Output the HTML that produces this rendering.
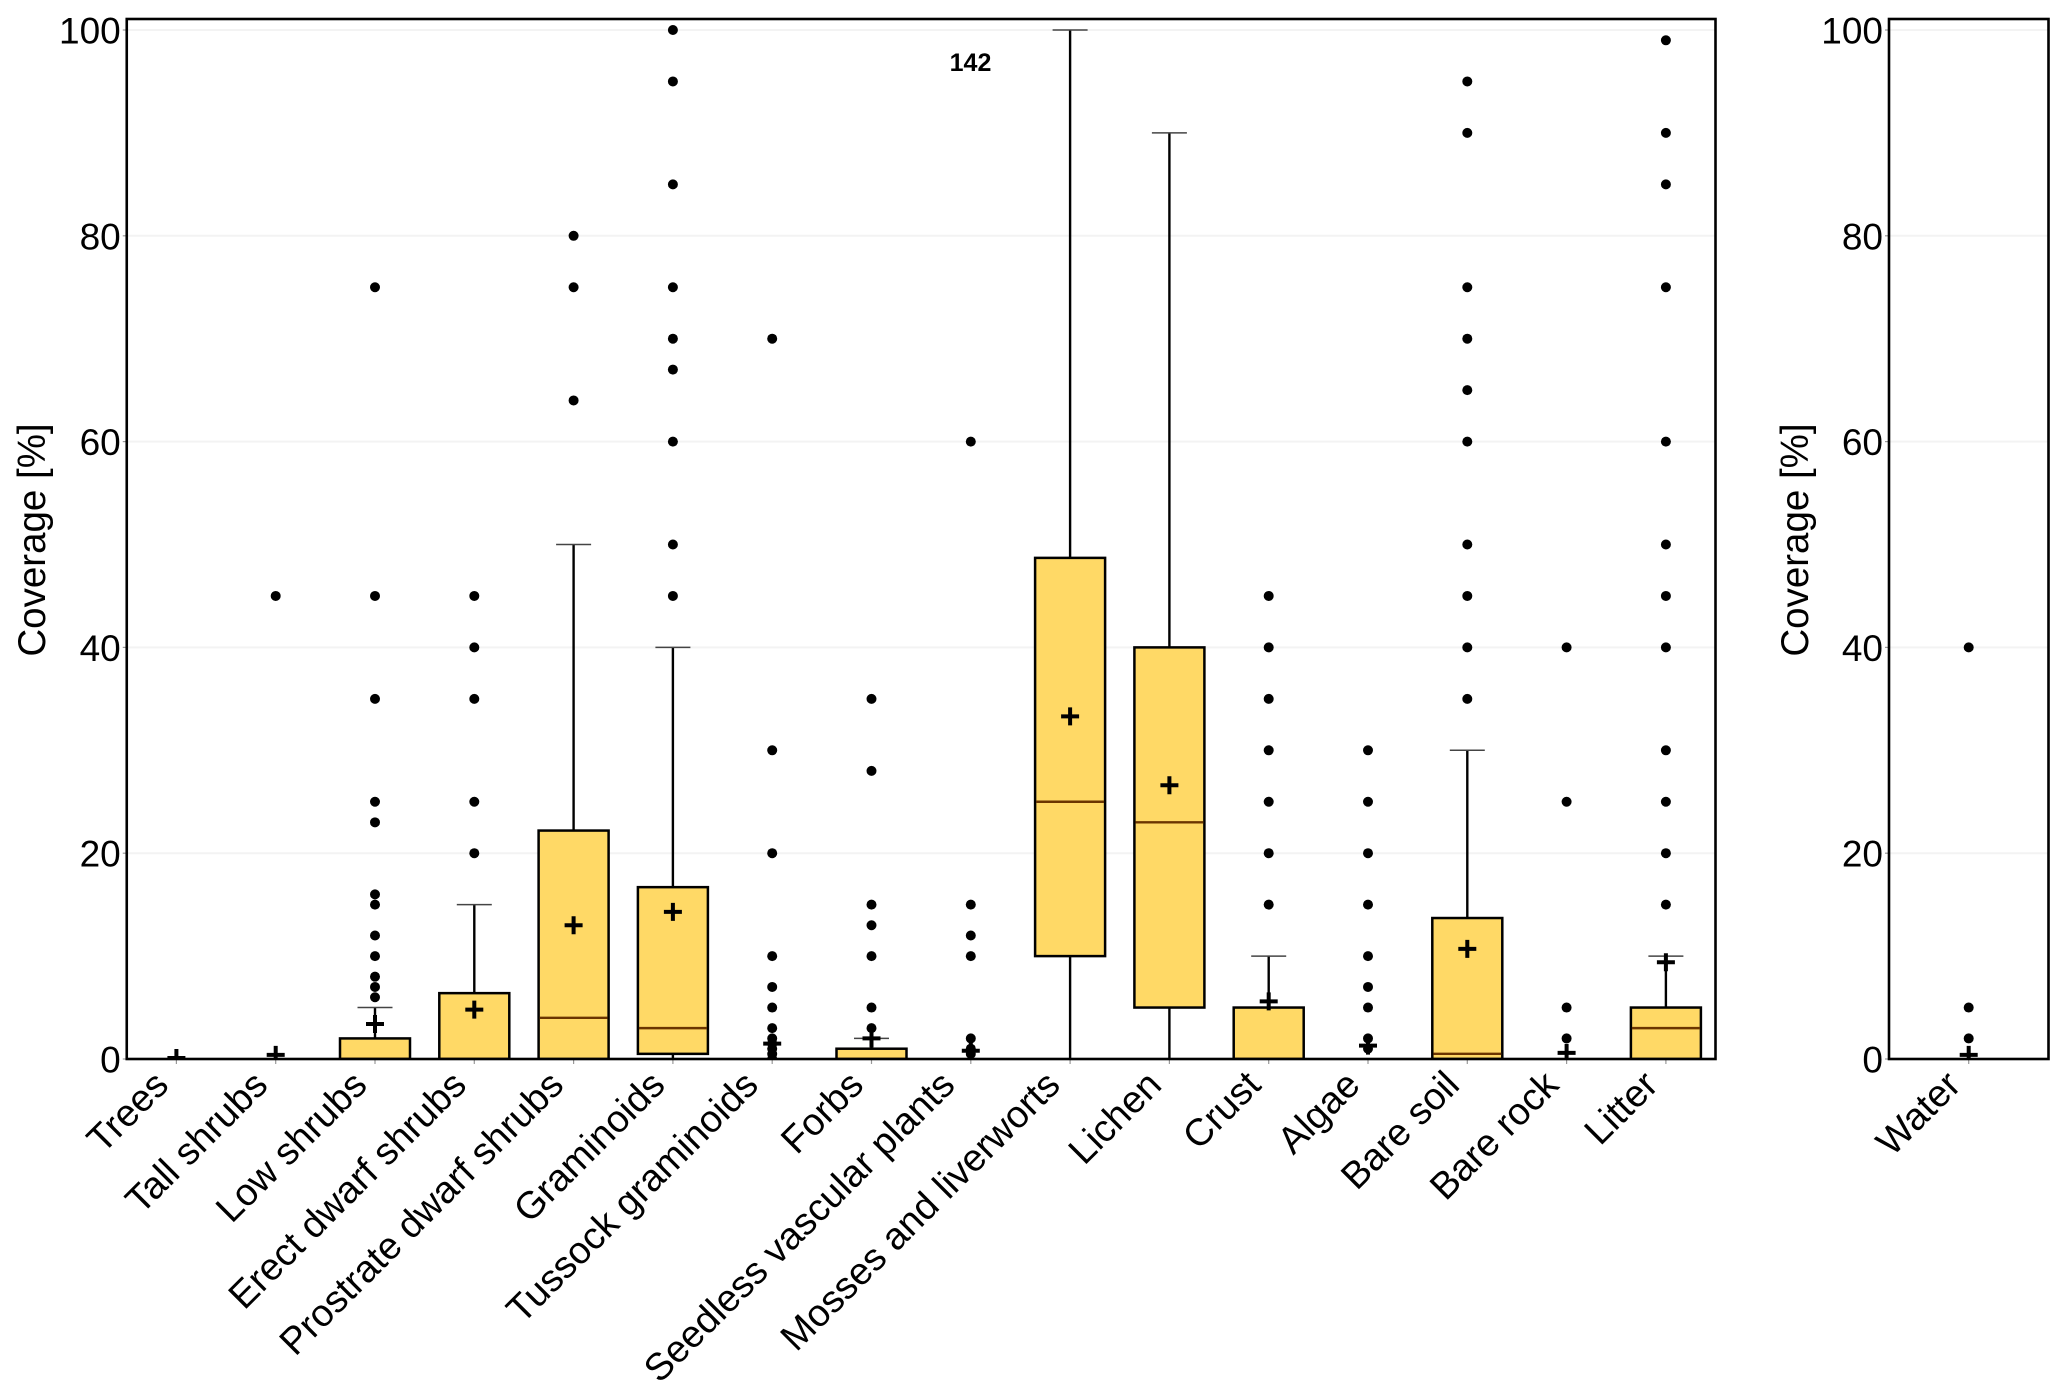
<!DOCTYPE html>
<html lang="en">
<head>
<meta charset="utf-8">
<title>Coverage boxplots</title>
<style>
html,body{margin:0;padding:0;background:#fff;width:2067px;height:1399px;overflow:hidden}
svg{display:block;font-family:"Liberation Sans",Arial,sans-serif}
</style>
</head>
<body>
<svg id="chart" xmlns="http://www.w3.org/2000/svg" width="2067" height="1399" viewBox="0 0 2067 1399">
  <defs>
    <clipPath id="clip-main"><rect x="126.75" y="19" width="1588.75" height="1040"/></clipPath>
    <clipPath id="clip-water"><rect x="1889" y="19" width="159.5" height="1040"/></clipPath>
  </defs>
  <g id="layer"></g>
  <text x="970.5" y="71" font-size="25" font-weight="bold" text-anchor="middle">142</text>
</svg>
<script>
// ---- chart data ----
const yTicks = [0, 20, 40, 60, 80, 100];

const categories = ["Trees","Tall shrubs","Low shrubs","Erect dwarf shrubs","Prostrate dwarf shrubs","Graminoids","Tussock graminoids","Forbs","Seedless vascular plants","Mosses and liverworts","Lichen","Crust","Algae","Bare soil","Bare rock","Litter"];
const q1Values       = [null, null, 0,   0,   0,    0.5,  null, 0,   null, 10,   5,  0,   null, 0,    null, 0];
const medianValues   = [null, null, 0,   0,   4,    3,    null, 0,   null, 25,   23, 0,   null, 0.5,  null, 3];
const q3Values       = [null, null, 2,   6.4, 22.2, 16.7, null, 1,   null, 48.7, 40, 5,   null, 13.7, null, 5];
const whiskerLow     = [null, null, 0,   0,   0,    0,    null, 0,   null, 0,    0,  0,   null, 0,    null, 0];
const whiskerHigh    = [null, null, 5,   15,  50,   40,   null, 2,   null, 100,  90, 10,  null, 30,   null, 10];
const meanValues     = [0.1,  0.4,  3.4, 4.8, 13,   14.3, 1.5,  2,   0.8,  33.3, 26.6, 5.6, 1.3, 10.7, 0.6, 9.4];
const outlierValues  = [
  [],
  [45],
  [75,45,35,25,23,16,15,12,10,8,7,6],
  [45,40,35,25,20],
  [80,75,64],
  [100,95,85,75,70,67,60,50,45],
  [70,30,20,10,7,5,3,2,1.5,1,0.5,0],
  [35,28,15,13,10,5,3],
  [60,15,12,10,2,1,0.5],
  [],
  [],
  [45,40,35,30,25,20,15],
  [30,25,20,15,10,7,5,2,1],
  [95,90,75,70,65,60,50,45,40,35],
  [40,25,5,2],
  [99,90,85,75,60,50,45,40,30,25,20,15]
];

const waterCategories = ["Water"];
const waterQ1 = [null];
const waterMedian = [null];
const waterQ3 = [null];
const waterWhiskerLow = [null];
const waterWhiskerHigh = [null];
const waterMeans = [0.4];
const waterOutliers = [[40,5,2]];

// ---- axis functions ----
const NS = "http://www.w3.org/2000/svg";
const layer = document.getElementById("layer");
function yScale(v){ return 1059 - v * 10.29; }
function mainX(i){ return 176.4 + i * 99.3; }
function waterX(i){ return 1968.7 + i * 99.3; }

function mk(parent, tag, attrs, text){
  const el = document.createElementNS(NS, tag);
  for (const k in attrs) el.setAttribute(k, attrs[k]);
  if (text !== undefined) el.textContent = text;
  parent.appendChild(el);
  return el;
}

function slug(s){ return s.toLowerCase().replace(/\s+/g, "-"); }

// extra leftward shift of the labels that sit further from their tick in the reference
function labelOffset(cat){
  if (cat === "Seedless vascular plants") return 8;
  if (cat === "Tussock graminoids") return 6;
  if (cat === "Prostrate dwarf shrubs" || cat === "Mosses and liverworts") return 2;
  return 0;
}

function drawPanel(cfg){
  const g = mk(layer, "g", {});
  
  

  // gridlines and y ticks
  yTicks.forEach(function(t){
    const y = yScale(t);
    if (t !== 0) {
      const grid = mk(g, "line", {x1:cfg.left, x2:cfg.right, y1:y, y2:y, stroke:"#f3f3f3", "stroke-width":2});
      
      
    }
    const tick = mk(g, "line", {x1:cfg.left-4, x2:cfg.left, y1:y, y2:y, stroke:"#999", "stroke-width":1.2});
    
    
    const lab = mk(g, "text", {x:cfg.left-6, y:y+13.5, "font-size":37, "text-anchor":"end", fill:"#000"}, String(t));
    
    
  });

  // y-axis title
  const title = mk(g, "text", {x:cfg.titleX, y:540, "font-size":38.5, "text-anchor":"middle", fill:"#000",
    transform:"rotate(-90 " + cfg.titleX + " 540)"}, "Coverage [%]");
  
  

  // marks
  const marks = mk(g, "g", {"clip-path":"url(#" + cfg.clip + ")"});
  
  

  cfg.categories.forEach(function(cat, i){
    const x = cfg.xFn(i);
    const s = slug(cat);
    const cg = mk(marks, "g", {});
    
    

    if (cfg.q3[i] !== null) {
      // whiskers
      const up = mk(cg, "line", {x1:x, x2:x, y1:yScale(cfg.q3[i]), y2:yScale(cfg.wHigh[i]), stroke:"#000", "stroke-width":2.4});
      
      
      const dn = mk(cg, "line", {x1:x, x2:x, y1:yScale(cfg.q1[i]), y2:yScale(cfg.wLow[i]), stroke:"#000", "stroke-width":2.4});
      
      
      const cap = mk(cg, "line", {x1:x-17.5, x2:x+17.5, y1:yScale(cfg.wHigh[i]), y2:yScale(cfg.wHigh[i]), stroke:"#444", "stroke-width":1.5});
      
      
      // box
      const box = mk(cg, "rect", {x:x-35, y:yScale(cfg.q3[i]), width:70, height:yScale(cfg.q1[i])-yScale(cfg.q3[i]), fill:"#FFD966", stroke:"#000", "stroke-width":2.5});
      
      
      // median
      const med = mk(cg, "line", {x1:x-34, x2:x+34, y1:yScale(cfg.median[i]), y2:yScale(cfg.median[i]), stroke:"#6b3500", "stroke-width":2.4});
      
      
    }

    // outliers
    cfg.outliers[i].forEach(function(v){
      const c = mk(cg, "circle", {cx:x, cy:yScale(v), r:5, fill:"#000"});
      
      
    });

    // mean marker
    const my = yScale(cfg.means[i]);
    const mean = mk(cg, "path", {d:"M" + (x-9) + " " + my + "H" + (x+9) + "M" + x + " " + (my-9) + "V" + (my+9), stroke:"#000", "stroke-width":4, fill:"none"});
    
    

    // x tick + label
    const tk = mk(g, "line", {x1:x, x2:x, y1:1059, y2:1064, stroke:"#999", "stroke-width":1.2});
    
    
    const px = x - 6 - labelOffset(cat), py = 1087;
    const lb = mk(g, "text", {x:px, y:py, "font-size":38, "text-anchor":"end", fill:"#000",
      transform:"rotate(-45 " + px + " " + py + ")"}, cat);
    
    
  });

  // frame
  const frame = mk(g, "rect", {x:cfg.left, y:19, width:cfg.right-cfg.left, height:1040, fill:"none", stroke:"#000", "stroke-width":2.6});
  
  
}

drawPanel({name:"main-panel", left:126.75, right:1715.5, titleX:45, clip:"clip-main", xFn:mainX,
  categories:categories, q1:q1Values, median:medianValues, q3:q3Values,
  wLow:whiskerLow, wHigh:whiskerHigh, means:meanValues, outliers:outlierValues});
drawPanel({name:"water-panel", left:1889, right:2048.5, titleX:1808, clip:"clip-water", xFn:waterX,
  categories:waterCategories, q1:waterQ1, median:waterMedian, q3:waterQ3,
  wLow:waterWhiskerLow, wHigh:waterWhiskerHigh, means:waterMeans, outliers:waterOutliers});
</script>
</body>
</html>
